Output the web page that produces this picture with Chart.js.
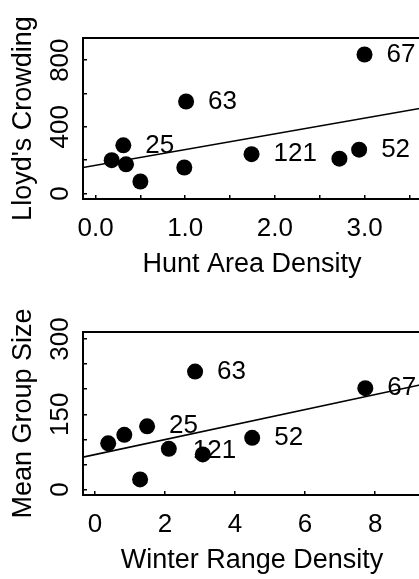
<!DOCTYPE html>
<html lang="en">
<head>
    <meta charset="UTF-8">
    <title>Density vs crowding</title>
    <script src="https://cdn.jsdelivr.net/npm/chart.js"></script>
    <style>
        html, body { margin: 0; padding: 0; background: #fff; overflow: hidden; }
        .panel { width: 430px; }
        canvas { display: block; }
    </style>
</head>
<body>
    <div class="panel"><canvas id="huntChart" width="430" height="290"></canvas></div>
    <div class="panel"><canvas id="winterChart" width="430" height="289"></canvas></div>

    <script>
        // top panel: Lloyd's crowding vs hunt area density
        const huntDensity   = [0.18, 0.31, 0.34, 0.50, 0.99, 1.01, 1.74, 2.72, 2.94, 3.00];
        const lloydCrowding = [200, 289, 175, 72, 156, 552, 236, 209, 263, 834];
        const huntLabels    = ['', '25', '', '', '', '63', '121', '', '52', '67'];
        const huntFitX      = [-0.14, 3.63];
        const huntFitY      = [156, 512];
        const huntXTicks    = [0, 0.5, 1, 1.5, 2, 2.5, 3, 3.5];
        const huntXTickText = ['0.0', '', '1.0', '', '2.0', '', '3.0', ''];
        const lloydYTicks    = [0, 200, 400, 600, 800];
        const lloydYTickText = ['0', '', '400', '', '800'];

        // bottom panel: mean group size vs winter range density
        const winterDensity  = [0.38, 0.84, 1.49, 1.29, 2.11, 2.86, 3.08, 4.49, 7.72];
        const meanGroupSize  = [92, 109, 126, 20, 81, 235, 70, 103, 202];
        const winterLabels   = ['', '', '25', '', '', '63', '121', '52', '67'];
        const winterFitX     = [-0.34, 9.31];
        const winterFitY     = [64.5, 209];
        const winterXTicks    = [0, 2, 4, 6, 8];
        const winterXTickText = ['0', '2', '4', '6', '8'];
        const groupYTicks    = [0, 50, 100, 150, 200, 250, 300];
        const groupYTickText = ['0', '', '', '150', '', '', '300'];

        const FONT = '"Liberation Sans", Arial, Helvetica, sans-serif';
        Chart.defaults.font.family = FONT;
        Chart.defaults.color = '#000';

        const pointLabels = {
            id: 'pointLabels',
            afterDatasetsDraw(chart, args, opts) {
                const meta = chart.getDatasetMeta(0);
                const ctx = chart.ctx;
                ctx.save();
                ctx.font = '26px ' + FONT;
                ctx.fillStyle = '#000';
                ctx.textBaseline = 'middle';
                opts.labels.forEach((txt, i) => {
                    if (!txt) return;
                    const pt = meta.data[i];
                    const shift = (opts.shift && opts.shift[i]) || [22, 0];
                    ctx.fillText(txt, pt.x + shift[0], pt.y + shift[1]);
                });
                ctx.restore();
            }
        };

        function makePanel(id, p) {
            const pts = p.xs.map((x, i) => ({ x: x, y: p.ys[i] }));
            const fit = p.fitX.map((x, i) => ({ x: x, y: p.fitY[i] }));
            return new Chart(document.getElementById(id), {
                type: 'scatter',
                data: {
                    datasets: [{
                        data: pts,
                        backgroundColor: '#000',
                        borderWidth: 0,
                        pointRadius: 8,
                        pointHoverRadius: 8
                    }, {
                        data: fit,
                        showLine: true,
                        borderColor: '#000',
                        borderWidth: 1.6,
                        pointRadius: 0,
                        fill: false
                    }]
                },
                options: {
                    responsive: false,
                    animation: false,
                    layout: { padding: { top: p.padTop, bottom: p.padBottom, left: 0, right: 9 } },
                    plugins: {
                        legend: { display: false },
                        tooltip: { enabled: false },
                        pointLabels: { labels: p.labels, shift: p.shift }
                    },
                    scales: {
                        x: {
                            type: 'linear',
                            position: 'bottom',
                            min: p.xMin,
                            max: p.xMax,
                            afterBuildTicks: s => { s.ticks = p.xTicks.map(v => ({ value: v })); },
                            afterFit: s => { s.height = 82; },
                            grid: { drawOnChartArea: false, tickLength: -4, color: '#000', lineWidth: 1.5 },
                            border: { display: true, color: '#000', width: 2 },
                            ticks: {
                                autoSkip: false, maxRotation: 0, padding: 18.4,
                                font: { size: 26 },
                                callback: (v, i) => p.xTickText[i]
                            },
                            title: { display: true, text: p.xTitle, font: { size: 27 }, padding: { top: 0, bottom: 0 } }
                        },
                        x2: {
                            type: 'linear',
                            position: 'top',
                            grid: { display: false },
                            border: { display: true, color: '#000', width: 2 },
                            ticks: { display: false }
                        },
                        y: {
                            type: 'linear',
                            position: 'left',
                            min: p.yMin,
                            max: p.yMax,
                            afterBuildTicks: s => { s.ticks = p.yTicks.map(v => ({ value: v })); },
                            afterFit: s => { s.width = 83; },
                            grid: { drawOnChartArea: false, tickLength: -4, color: '#000', lineWidth: 1.5 },
                            border: { display: true, color: '#000', width: 2 },
                            ticks: {
                                autoSkip: false, minRotation: 90, maxRotation: 90,
                                crossAlign: 'center', padding: 4.3,
                                font: { size: 26 },
                                callback: (v, i) => p.yTickText[i]
                            },
                            title: { display: true, text: p.yTitle, font: { size: 27 }, padding: { top: 7.8, bottom: 0 } }
                        }
                    }
                },
                plugins: [pointLabels]
            });
        }

        makePanel('huntChart', {
            xs: huntDensity, ys: lloydCrowding, labels: huntLabels,
            fitX: huntFitX, fitY: huntFitY,
            xMin: -0.14, xMax: 3.63, yMin: -33, yMax: 933,
            xTicks: huntXTicks, xTickText: huntXTickText,
            yTicks: lloydYTicks, yTickText: lloydYTickText,
            xTitle: 'Hunt Area Density', yTitle: "Lloyd's Crowding",
            padTop: 30, padBottom: 9
        });

        makePanel('winterChart', {
            xs: winterDensity, ys: meanGroupSize, labels: winterLabels,
            shift: { 6: [-10, -4] },
            fitX: winterFitX, fitY: winterFitY,
            xMin: -0.34, xMax: 9.31, yMin: -11, yMax: 314,
            xTicks: winterXTicks, xTickText: winterXTickText,
            yTicks: groupYTicks, yTickText: groupYTickText,
            xTitle: 'Winter Range Density', yTitle: 'Mean Group Size',
            padTop: 34, padBottom: 2
        });
    </script>
</body>
</html>
